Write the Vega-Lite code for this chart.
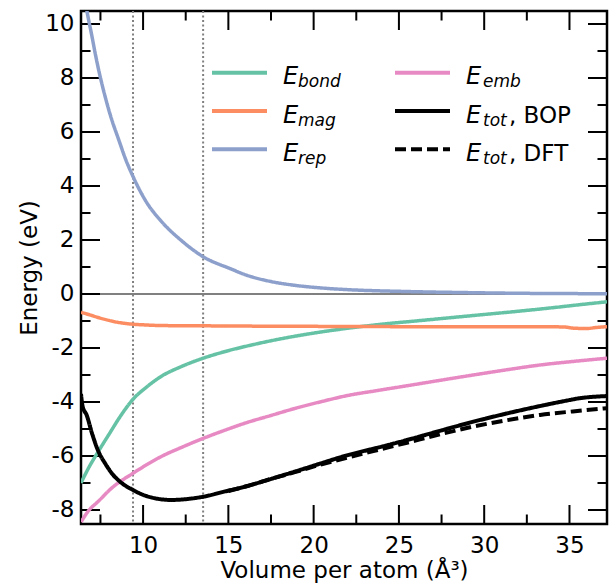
{
  "$schema": "https://vega.github.io/schema/vega-lite/v6.json",
  "width": 526,
  "height": 513,
  "autosize": {"type": "none"},
  "padding": {"left": 81, "top": 11, "right": 4, "bottom": 61},
  "config": {
    "font": "DejaVu Sans",
    "view": {"stroke": "#000000", "strokeWidth": 2.5},
    "axis": {
      "domain": false, "grid": false, "ticks": false,
      "labelColor": "#000000", "labelFontSize": 23, "labelFont": "DejaVu Sans",
      "titleFont": "DejaVu Sans", "titleFontSize": 23, "titleFontWeight": "normal", "titleColor": "#000000",
      "labelOverlap": false, "labelFlush": false
    },
    "legend": {"padding": 0, "labelColor": "#000000", "labelFont": "DejaVu Sans", "labelLimit": 300}
  },
  "datasets": {
    "xmajor": [{"volume": 10}, {"volume": 15}, {"volume": 20}, {"volume": 25}, {"volume": 30}, {"volume": 35}],
    "xminor": [{"volume": 7.5}, {"volume": 12.5}, {"volume": 17.5}, {"volume": 22.5}, {"volume": 27.5}, {"volume": 32.5}],
    "ymajor": [{"energy": -8}, {"energy": -6}, {"energy": -4}, {"energy": -2}, {"energy": 0}, {"energy": 2}, {"energy": 4}, {"energy": 6}, {"energy": 8}, {"energy": 10}],
    "yminor": [{"energy": -7}, {"energy": -5}, {"energy": -3}, {"energy": -1}, {"energy": 1}, {"energy": 3}, {"energy": 5}, {"energy": 7}, {"energy": 9}],
    "curves": [
      {"series": "E_bond", "volume": 6.36, "energy": -7.0},
      {"series": "E_bond", "volume": 6.8, "energy": -6.45},
      {"series": "E_bond", "volume": 7.36, "energy": -5.85},
      {"series": "E_bond", "volume": 8.0, "energy": -5.2},
      {"series": "E_bond", "volume": 8.7, "energy": -4.5},
      {"series": "E_bond", "volume": 9.41, "energy": -3.9},
      {"series": "E_bond", "volume": 10.2, "energy": -3.45},
      {"series": "E_bond", "volume": 11.07, "energy": -3.05},
      {"series": "E_bond", "volume": 12.2, "energy": -2.7},
      {"series": "E_bond", "volume": 13.52, "energy": -2.38},
      {"series": "E_bond", "volume": 15.0, "energy": -2.1},
      {"series": "E_bond", "volume": 16.5, "energy": -1.87},
      {"series": "E_bond", "volume": 18.0, "energy": -1.67},
      {"series": "E_bond", "volume": 20.0, "energy": -1.45},
      {"series": "E_bond", "volume": 22.0, "energy": -1.27},
      {"series": "E_bond", "volume": 24.0, "energy": -1.12},
      {"series": "E_bond", "volume": 26.0, "energy": -1.0},
      {"series": "E_bond", "volume": 28.0, "energy": -0.88},
      {"series": "E_bond", "volume": 30.0, "energy": -0.76},
      {"series": "E_bond", "volume": 32.0, "energy": -0.64},
      {"series": "E_bond", "volume": 34.0, "energy": -0.51},
      {"series": "E_bond", "volume": 36.0, "energy": -0.37},
      {"series": "E_bond", "volume": 37.2, "energy": -0.29},

      {"series": "E_mag", "volume": 6.36, "energy": -0.68},
      {"series": "E_mag", "volume": 6.8, "energy": -0.76},
      {"series": "E_mag", "volume": 7.36, "energy": -0.87},
      {"series": "E_mag", "volume": 8.0, "energy": -0.98},
      {"series": "E_mag", "volume": 8.7, "energy": -1.07},
      {"series": "E_mag", "volume": 9.41, "energy": -1.12},
      {"series": "E_mag", "volume": 10.2, "energy": -1.15},
      {"series": "E_mag", "volume": 11.07, "energy": -1.17},
      {"series": "E_mag", "volume": 13.52, "energy": -1.18},
      {"series": "E_mag", "volume": 16.0, "energy": -1.19},
      {"series": "E_mag", "volume": 20.0, "energy": -1.2},
      {"series": "E_mag", "volume": 25.0, "energy": -1.21},
      {"series": "E_mag", "volume": 30.0, "energy": -1.21},
      {"series": "E_mag", "volume": 34.6, "energy": -1.22},
      {"series": "E_mag", "volume": 35.3, "energy": -1.27},
      {"series": "E_mag", "volume": 36.0, "energy": -1.28},
      {"series": "E_mag", "volume": 36.6, "energy": -1.24},
      {"series": "E_mag", "volume": 37.2, "energy": -1.21},

      {"series": "E_rep", "volume": 6.36, "energy": 11.8},
      {"series": "E_rep", "volume": 6.73, "energy": 10.4},
      {"series": "E_rep", "volume": 7.0, "energy": 9.55},
      {"series": "E_rep", "volume": 7.18, "energy": 8.95},
      {"series": "E_rep", "volume": 7.36, "energy": 8.4},
      {"series": "E_rep", "volume": 7.8, "energy": 7.25},
      {"series": "E_rep", "volume": 8.14, "energy": 6.5},
      {"series": "E_rep", "volume": 8.55, "energy": 5.75},
      {"series": "E_rep", "volume": 9.0, "energy": 4.95},
      {"series": "E_rep", "volume": 9.41, "energy": 4.35},
      {"series": "E_rep", "volume": 10.2, "energy": 3.4},
      {"series": "E_rep", "volume": 11.07, "energy": 2.69},
      {"series": "E_rep", "volume": 12.3, "energy": 1.95},
      {"series": "E_rep", "volume": 13.52, "energy": 1.38},
      {"series": "E_rep", "volume": 15.18, "energy": 0.92},
      {"series": "E_rep", "volume": 15.96, "energy": 0.72},
      {"series": "E_rep", "volume": 17.5, "energy": 0.46},
      {"series": "E_rep", "volume": 18.9, "energy": 0.32},
      {"series": "E_rep", "volume": 20.5, "energy": 0.22},
      {"series": "E_rep", "volume": 22.0, "energy": 0.16},
      {"series": "E_rep", "volume": 25.5, "energy": 0.09},
      {"series": "E_rep", "volume": 29.0, "energy": 0.05},
      {"series": "E_rep", "volume": 33.0, "energy": 0.02},
      {"series": "E_rep", "volume": 37.2, "energy": 0.01},

      {"series": "E_emb", "volume": 6.36, "energy": -8.45},
      {"series": "E_emb", "volume": 6.8, "energy": -8.03},
      {"series": "E_emb", "volume": 7.36, "energy": -7.69},
      {"series": "E_emb", "volume": 8.14, "energy": -7.2},
      {"series": "E_emb", "volume": 9.41, "energy": -6.64},
      {"series": "E_emb", "volume": 10.2, "energy": -6.33},
      {"series": "E_emb", "volume": 11.07, "energy": -6.02},
      {"series": "E_emb", "volume": 12.3, "energy": -5.67},
      {"series": "E_emb", "volume": 13.52, "energy": -5.35},
      {"series": "E_emb", "volume": 15.0, "energy": -5.0},
      {"series": "E_emb", "volume": 16.0, "energy": -4.78},
      {"series": "E_emb", "volume": 17.5, "energy": -4.5},
      {"series": "E_emb", "volume": 18.9, "energy": -4.24},
      {"series": "E_emb", "volume": 20.5, "energy": -3.98},
      {"series": "E_emb", "volume": 22.0, "energy": -3.76},
      {"series": "E_emb", "volume": 23.7, "energy": -3.58},
      {"series": "E_emb", "volume": 25.47, "energy": -3.4},
      {"series": "E_emb", "volume": 27.4, "energy": -3.2},
      {"series": "E_emb", "volume": 29.37, "energy": -3.0},
      {"series": "E_emb", "volume": 31.3, "energy": -2.81},
      {"series": "E_emb", "volume": 33.28, "energy": -2.63},
      {"series": "E_emb", "volume": 35.2, "energy": -2.5},
      {"series": "E_emb", "volume": 37.2, "energy": -2.38},

      {"series": "E_tot, BOP", "volume": 6.36, "energy": -3.7},
      {"series": "E_tot, BOP", "volume": 6.45, "energy": -4.15},
      {"series": "E_tot, BOP", "volume": 6.7, "energy": -4.5},
      {"series": "E_tot, BOP", "volume": 7.0, "energy": -5.15},
      {"series": "E_tot, BOP", "volume": 7.36, "energy": -5.8},
      {"series": "E_tot, BOP", "volume": 7.8, "energy": -6.3},
      {"series": "E_tot, BOP", "volume": 8.14, "energy": -6.62},
      {"series": "E_tot, BOP", "volume": 8.7, "energy": -6.98},
      {"series": "E_tot, BOP", "volume": 9.41, "energy": -7.26},
      {"series": "E_tot, BOP", "volume": 10.0, "energy": -7.44},
      {"series": "E_tot, BOP", "volume": 10.5, "energy": -7.54},
      {"series": "E_tot, BOP", "volume": 11.0, "energy": -7.6},
      {"series": "E_tot, BOP", "volume": 11.66, "energy": -7.63},
      {"series": "E_tot, BOP", "volume": 12.5, "energy": -7.6},
      {"series": "E_tot, BOP", "volume": 13.52, "energy": -7.51},
      {"series": "E_tot, BOP", "volume": 14.7, "energy": -7.33},
      {"series": "E_tot, BOP", "volume": 15.96, "energy": -7.14},
      {"series": "E_tot, BOP", "volume": 17.4, "energy": -6.87},
      {"series": "E_tot, BOP", "volume": 18.9, "energy": -6.58},
      {"series": "E_tot, BOP", "volume": 20.4, "energy": -6.28},
      {"series": "E_tot, BOP", "volume": 22.0, "energy": -5.97},
      {"series": "E_tot, BOP", "volume": 23.7, "energy": -5.7},
      {"series": "E_tot, BOP", "volume": 25.47, "energy": -5.41},
      {"series": "E_tot, BOP", "volume": 27.4, "energy": -5.07},
      {"series": "E_tot, BOP", "volume": 29.37, "energy": -4.73},
      {"series": "E_tot, BOP", "volume": 31.3, "energy": -4.43},
      {"series": "E_tot, BOP", "volume": 33.28, "energy": -4.15},
      {"series": "E_tot, BOP", "volume": 35.0, "energy": -3.93},
      {"series": "E_tot, BOP", "volume": 35.6, "energy": -3.86},
      {"series": "E_tot, BOP", "volume": 36.2, "energy": -3.82},
      {"series": "E_tot, BOP", "volume": 37.2, "energy": -3.78},

      {"series": "E_tot, DFT", "volume": 15.0, "energy": -7.3},
      {"series": "E_tot, DFT", "volume": 16.0, "energy": -7.13},
      {"series": "E_tot, DFT", "volume": 17.4, "energy": -6.87},
      {"series": "E_tot, DFT", "volume": 18.9, "energy": -6.6},
      {"series": "E_tot, DFT", "volume": 20.4, "energy": -6.32},
      {"series": "E_tot, DFT", "volume": 21.55, "energy": -6.13},
      {"series": "E_tot, DFT", "volume": 23.5, "energy": -5.82},
      {"series": "E_tot, DFT", "volume": 25.47, "energy": -5.51},
      {"series": "E_tot, DFT", "volume": 27.4, "energy": -5.2},
      {"series": "E_tot, DFT", "volume": 29.37, "energy": -4.91},
      {"series": "E_tot, DFT", "volume": 31.3, "energy": -4.68},
      {"series": "E_tot, DFT", "volume": 33.28, "energy": -4.48},
      {"series": "E_tot, DFT", "volume": 35.2, "energy": -4.35},
      {"series": "E_tot, DFT", "volume": 37.2, "energy": -4.23}
    ]
  },
  "layer": [
    {
      "data": {"values": [{"energy": 0}]},
      "mark": {"type": "rule", "color": "#808080", "strokeWidth": 2},
      "encoding": {
        "y": {"field": "energy", "type": "quantitative", "axis": null,
              "scale": {"domain": [-8.52, 10.48], "nice": false, "zero": false}}
      }
    },
    {
      "data": {"values": [{"volume": 9.41}, {"volume": 13.52}]},
      "mark": {"type": "rule", "color": "#808080", "strokeWidth": 2, "strokeDash": [2, 2.5]},
      "encoding": {
        "x": {"field": "volume", "type": "quantitative", "axis": null,
              "scale": {"domain": [6.36, 37.2], "nice": false, "zero": false}}
      }
    },
    {
      "data": {"name": "xmajor"},
      "mark": {"type": "rule", "color": "#000000", "strokeWidth": 2, "strokeDash": [19, 475, 19, 0]},
      "encoding": {
        "x": {"field": "volume", "type": "quantitative", "axis": null,
              "scale": {"domain": [6.36, 37.2], "nice": false, "zero": false}}
      }
    },
    {
      "data": {"name": "xminor"},
      "mark": {"type": "rule", "color": "#000000", "strokeWidth": 2, "strokeDash": [9.5, 494, 9.5, 0]},
      "encoding": {
        "x": {"field": "volume", "type": "quantitative", "axis": null,
              "scale": {"domain": [6.36, 37.2], "nice": false, "zero": false}}
      }
    },
    {
      "data": {"name": "ymajor"},
      "mark": {"type": "rule", "color": "#000000", "strokeWidth": 2, "strokeDash": [19, 488, 19, 0]},
      "encoding": {
        "y": {"field": "energy", "type": "quantitative", "axis": null,
              "scale": {"domain": [-8.52, 10.48], "nice": false, "zero": false}}
      }
    },
    {
      "data": {"name": "yminor"},
      "mark": {"type": "rule", "color": "#000000", "strokeWidth": 2, "strokeDash": [9.5, 507, 9.5, 0]},
      "encoding": {
        "y": {"field": "energy", "type": "quantitative", "axis": null,
              "scale": {"domain": [-8.52, 10.48], "nice": false, "zero": false}}
      }
    },
    {
      "data": {"name": "curves"},
      "mark": {"type": "line", "clip": true, "interpolate": "monotone"},
      "encoding": {
        "x": {
          "field": "volume", "type": "quantitative",
          "scale": {"domain": [6.36, 37.2], "nice": false, "zero": false},
          "axis": {
            "orient": "bottom", "title": "Volume per atom (Å³)",
            "values": [10, 15, 20, 25, 30, 35],
            "labelExpr": "'' + datum.value",
            "labelPadding": 10, "titlePadding": 2
          }
        },
        "y": {
          "field": "energy", "type": "quantitative",
          "scale": {"domain": [-8.52, 10.48], "nice": false, "zero": false},
          "axis": {
            "orient": "left", "title": "Energy (eV)",
            "values": [-8, -6, -4, -2, 0, 2, 4, 6, 8, 10],
            "labelExpr": "'' + datum.value",
            "labelPadding": 7, "titlePadding": 3
          }
        },
        "color": {
          "field": "series", "type": "nominal",
          "scale": {
            "domain": ["E_bond", "E_mag", "E_rep", "E_emb", "E_tot, BOP", "E_tot, DFT"],
            "range": ["#66c2a5", "#fc8d62", "#8da0cb", "#e78ac3", "#000000", "#000000"]
          },
          "legend": {
            "title": null, "orient": "none", "legendX": 129, "legendY": 42.7,
            "columns": 2, "columnPadding": 94, "rowPadding": 0.3, "clipHeight": 38,
            "symbolType": "stroke", "symbolSize": 3025, "symbolStrokeWidth": 4,
            "labelExpr": "'E'", "labelFontSize": 24, "labelFontStyle": "italic",
            "labelOffset": 14, "labelBaseline": "alphabetic",
            "encode": {"labels": {"update": {"dy": {"value": 11.6}}}}
          }
        },
        "strokeDash": {
          "field": "series", "type": "nominal",
          "scale": {
            "domain": ["E_bond", "E_mag", "E_rep", "E_emb", "E_tot, BOP", "E_tot, DFT"],
            "range": [[1, 0], [1, 0], [1, 0], [1, 0], [1, 0], [11, 5]]
          }
        },
        "opacity": {
          "field": "series", "type": "nominal",
          "scale": {
            "type": "ordinal",
            "domain": ["E_emb", "E_bond", "E_mag", "E_tot, BOP", "E_rep", "E_tot, DFT"],
            "range": [1, 1, 1, 1, 1, 1]
          },
          "legend": {
            "title": null, "orient": "none", "legendX": 129, "legendY": 42.7,
            "values": ["E_bond", "E_mag", "E_rep", "E_emb", "E_tot, BOP", "E_tot, DFT"],
            "columns": 2, "columnPadding": 54, "rowPadding": 0.3, "clipHeight": 38,
            "symbolType": "stroke", "symbolSize": 3025,
            "labelExpr": "slice(datum.label, 2, indexof(datum.label + ',', ','))",
            "labelFontSize": 17, "labelFontStyle": "italic",
            "labelOffset": 31, "labelBaseline": "alphabetic",
            "encode": {
              "labels": {"update": {"dy": {"value": 14.6}}},
              "symbols": {"update": {"opacity": {"value": 0}, "strokeOpacity": {"value": 0}, "fillOpacity": {"value": 0}}}
            }
          }
        },
        "strokeWidth": {
          "field": "series", "type": "nominal",
          "scale": {
            "type": "ordinal",
            "domain": ["E_tot, BOP", "E_tot, DFT", "E_bond", "E_emb", "E_mag", "E_rep"],
            "range": [4, 4, 3.5, 3.5, 3.5, 3.5]
          },
          "legend": {
            "title": null, "orient": "none", "legendX": 312, "legendY": 81,
            "values": ["E_tot, BOP", "E_tot, DFT"],
            "direction": "vertical", "columns": 1, "rowPadding": 0.3, "clipHeight": 38,
            "symbolType": "stroke", "symbolSize": 3025,
            "labelExpr": "slice(datum.label, 5)",
            "labelFontSize": 23, "labelOffset": 57, "labelBaseline": "alphabetic",
            "encode": {
              "labels": {"update": {"dy": {"value": 11.6}}},
              "symbols": {"update": {"opacity": {"value": 0}, "strokeOpacity": {"value": 0}, "fillOpacity": {"value": 0}}}
            }
          }
        }
      }
    }
  ],
  "resolve": {"axis": {"x": "independent", "y": "independent"}}
}
